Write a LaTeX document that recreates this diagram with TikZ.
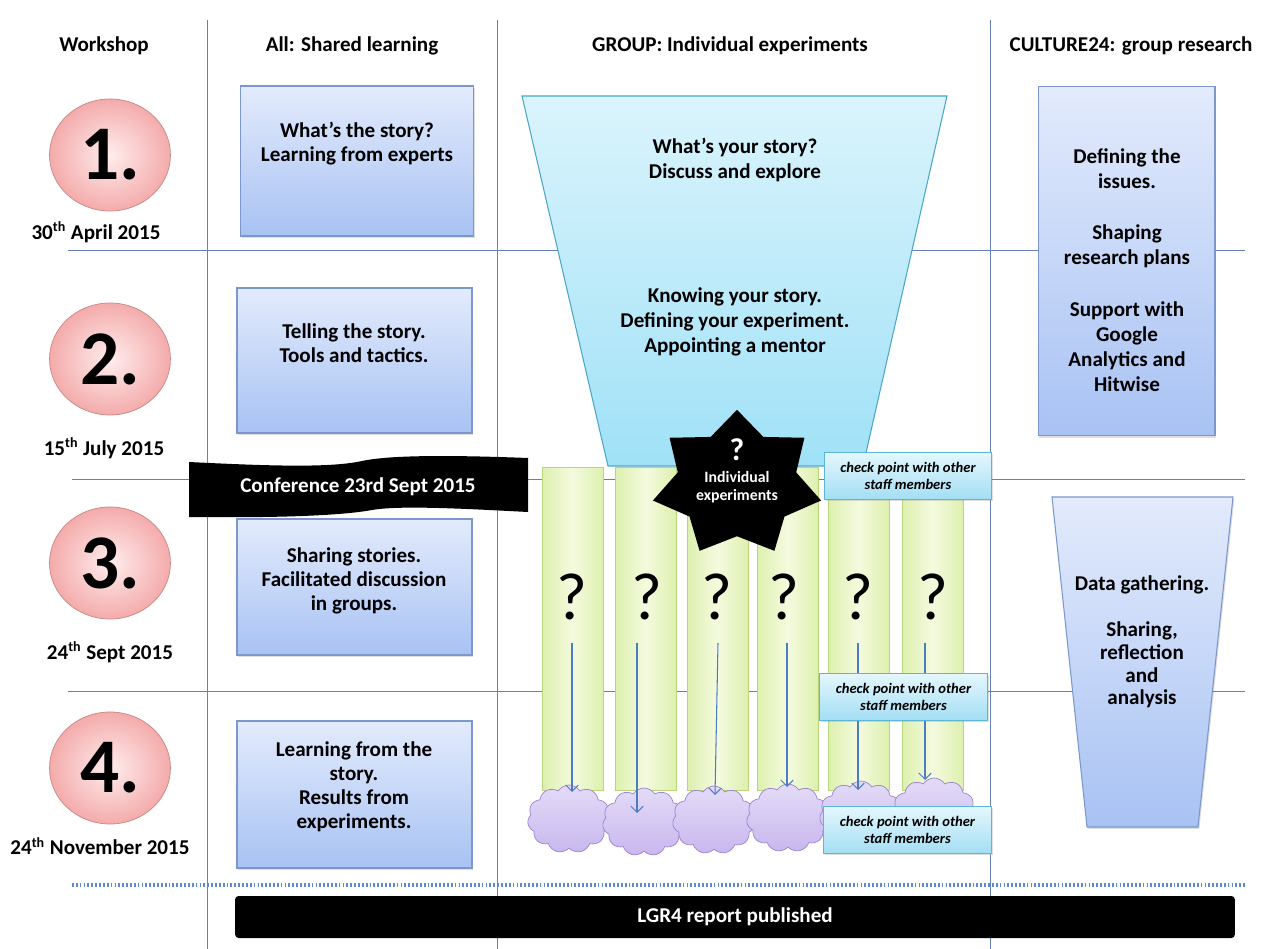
\documentclass[tikz,border=0pt]{standalone}
\usepackage{fontspec}
\setmainfont{Carlito}
\usepackage{tikz}
\usetikzlibrary{arrows.meta,shapes.geometric,shapes.symbols,shadows}
\definecolor{GridBlue}{HTML}{6482B4}
\definecolor{DotBlue}{HTML}{5B8AD2}
\definecolor{DayEdge}{HTML}{C98585}
\definecolor{DayIn}{HTML}{FFEDED}
\definecolor{DayOut}{HTML}{F4ABAB}
\definecolor{BoxEdge}{HTML}{7B97CC}
\definecolor{BoxTop}{HTML}{E3EBFC}
\definecolor{BoxBottom}{HTML}{A8C2F3}
\definecolor{FunnelEdge}{HTML}{4BA6C9}
\definecolor{FunnelTop}{HTML}{DAF4FC}
\definecolor{FunnelBottom}{HTML}{A0E1F7}
\definecolor{ColEdge}{HTML}{B9D47A}
\definecolor{ColSide}{HTML}{DDF0AE}
\definecolor{ColMid}{HTML}{F4FADF}
\definecolor{CloudEdge}{HTML}{9A85CF}
\definecolor{CloudTop}{HTML}{E4DBF7}
\definecolor{CloudBottom}{HTML}{C8B7EE}
\definecolor{CheckEdge}{HTML}{5DB6D6}
\definecolor{CheckTop}{HTML}{E4F7FD}
\definecolor{CheckBottom}{HTML}{A3DEF4}
\definecolor{FlowBlue}{HTML}{4D7CC4}

\tikzset{
  grid/.style={GridBlue,line width=0.55pt},
  headtext/.style={font=\bfseries\fontsize{12}{14}\selectfont},
  datetext/.style={font=\bfseries\fontsize{12}{14}\selectfont},
  daynum/.style={ellipse,draw=DayEdge,inner color=DayIn,outer color=DayOut,
    minimum width=2.42cm,minimum height=2.24cm,inner sep=0pt,
    font=\bfseries\fontsize{44}{44}\selectfont},
  softshadow/.style={drop shadow={opacity=0.25,shadow xshift=0.8pt,shadow yshift=-1pt}},
  sharebox/.style={draw=BoxEdge,top color=BoxTop,bottom color=BoxBottom,
    line width=0.6pt,inner sep=0pt,softshadow},
  boxtext/.style={align=center,font=\bfseries\fontsize{12}{13.6}\selectfont},
  funnel/.style={draw=FunnelEdge,top color=FunnelTop,bottom color=FunnelBottom,line width=0.6pt},
  expcol/.style={draw=ColEdge,left color=ColSide,right color=ColSide,middle color=ColMid,
    minimum width=1.22cm,minimum height=6.46cm,inner sep=0pt},
  qmark/.style={font=\fontsize{38}{38}\selectfont},
  outcome/.style={cloud,cloud puffs=11,cloud puff arc=115,aspect=1.25,draw=CloudEdge,
    top color=CloudTop,bottom color=CloudBottom,minimum width=1.66cm,minimum height=1.36cm,
    inner sep=0pt},
  flow/.style={FlowBlue,line width=0.6pt,-{Straight Barb[length=3.5pt,width=7pt]}},
  checkbox/.style={draw=CheckEdge,top color=CheckTop,bottom color=CheckBottom,
    minimum width=3.35cm,minimum height=0.94cm,inner sep=0pt,align=center,
    font=\bfseries\itshape\fontsize{8.3}{10}\selectfont,softshadow},
  blackbar/.style={fill=black,text=white,font=\bfseries\fontsize{12}{14}\selectfont}
}

\begin{document}
\begin{tikzpicture}[x=0.02cm,y=-0.02cm]
\useasboundingbox (0,0) rectangle (1268,949);

% grid of the timetable
\draw[grid] (207,20) -- (207,949);
\draw[grid] (497,20) -- (497,949);
\draw[grid] (990,20) -- (990,949);
\draw[grid] (68,250) -- (1245,250);
\draw[grid] (72,479) -- (1245,479);
\draw[grid] (68,691) -- (1245,691);
\draw[DotBlue,line width=2pt,dash pattern=on 1pt off 1.2pt] (72,885) -- (1245,885);

% column heads
\node[headtext] (hws) at (104,46) {Workshop};
\node[headtext] (hall) at (352,46) {All: Shared learning};
\node[headtext] (hgrp) at (730,46) {GROUP: Individual experiments};
\node[headtext] (hc24) at (1131,46) {CULTURE24: group research};

% workshops
\node[daynum] (d1) at (110,155) {1.};
\node[daynum] (d2) at (110,359) {2.};
\node[daynum] (d3) at (110,563) {3.};
\node[daynum] (d4) at (110,768) {4.};
\node[datetext] (t1) at (96,232) {30\textsuperscript{th} April 2015};
\node[datetext] (t2) at (104,448) {15\textsuperscript{th} July 2015};
\node[datetext] (t3) at (110,652) {24\textsuperscript{th} Sept 2015};
\node[datetext] (t4) at (100,846) {24\textsuperscript{th} November 2015};

% shared learning
\node[sharebox,minimum width=4.66cm,minimum height=3cm] (s1) at (357,161) {};
\node[sharebox,minimum width=4.7cm,minimum height=2.9cm] (s2) at (354.5,360.5) {};
\node[sharebox,minimum width=4.7cm,minimum height=2.72cm] (s3) at (354.5,587) {};
\node[sharebox,minimum width=4.7cm,minimum height=2.94cm] (s4) at (354.5,794.5) {};
\node[boxtext] (s1t) at (357,144) {What’s the story?\\Learning from experts};
\node[boxtext] (s2t) at (354,343) {Telling the story.\\Tools and tactics.};
\node[boxtext] (s3t) at (354,581) {Sharing stories.\\Facilitated discussion\\in groups.};
\node[boxtext] (s4t) at (354,787) {Learning from the\\story.\\Results from\\experiments.};

% conference banner
\fill[black] (189,462) .. controls (270,466) and (330,468) .. (362,461)
  .. controls (390,455) and (450,455) .. (528,458) -- (528,512)
  .. controls (470,509) and (400,505) .. (372,510)
  .. controls (340,516) and (270,518) .. (189,517) -- cycle;
\node[blackbar,fill=none] (conf) at (358,487) {Conference 23rd Sept 2015};

% group funnel
\draw[funnel] (522,96) -- (947,96) -- (863,466) -- (608,466) -- cycle;
\node[boxtext,font=\bfseries\fontsize{12}{14.2}\selectfont] (f1) at (735,160) {What’s your story?\\Discuss and explore};
\node[boxtext,font=\bfseries\fontsize{12}{14.2}\selectfont] (f2) at (735,322) {Knowing your story.\\Defining your experiment.\\Appointing a mentor};

% individual experiments
\node[expcol] (c1) at (572.5,628.5) {};
\node[expcol] (c2) at (645.5,628.5) {};
\node[expcol] (c3) at (717.5,628.5) {};
\node[expcol] (c4) at (787.5,628.5) {};
\node[expcol] (c5) at (858.5,628.5) {};
\node[expcol] (c6) at (932.5,628.5) {};

\node[star,star points=7,star point ratio=1.42,minimum size=3.45cm,fill=black,inner sep=0pt,
  yscale=0.86,transform shape] (st) at (737,484) {};
\node[text=white,font=\bfseries\fontsize{18}{18}\selectfont] (stq) at (737,450) {?};
\node[text=white,align=center,font=\bfseries\fontsize{9}{10.5}\selectfont] (stt) at (737,487) {Individual\\experiments};

\node[qmark] (q1) at (572,597) {?};
\node[qmark] (q2) at (647,597) {?};
\node[qmark] (q3) at (717,597) {?};
\node[qmark] (q4) at (784,597) {?};
\node[qmark] (q5) at (858,597) {?};
\node[qmark] (q6) at (933,597) {?};

\node[outcome] (cl1) at (569,819) {};
\node[outcome] (cl2) at (644,822) {};
\node[outcome] (cl3) at (714,820) {};
\node[outcome] (cl4) at (788,818) {};
\node[outcome] (cl5) at (861,815) {};
\node[outcome] (cl6) at (934,812) {};

\coordinate (e1) at (572,792);
\coordinate (e2) at (637,813);
\coordinate (e3) at (715,795);
\coordinate (e4) at (787,787);
\coordinate (e5) at (858,790);
\coordinate (e6) at (925,780);
\draw[flow] (q1) ++(0,46) -- (e1);
\draw[flow] (q2) ++(-10,46) -- (e2);
\draw[flow] (q3) ++(1,46) -- (e3);
\draw[flow] (q4) ++(3,46) -- (e4);
\draw[flow] (q5) ++(0,46) -- (e5);
\draw[flow] (q6) ++(-8,46) -- (e6);

\node[checkbox] (cp1) at (908,476) {check point with other\\staff members};
\node[checkbox] (cp2) at (903.5,697) {check point with other\\staff members};
\node[checkbox] (cp3) at (907.5,830) {check point with other\\staff members};

% culture24 research
\node[sharebox,minimum width=3.54cm,minimum height=7cm] (r1) at (1126.5,261) {};
\node[boxtext,font=\bfseries\fontsize{12}{14.2}\selectfont] (r1t) at (1127,270)
  {Defining the\\issues.\\[15pt]Shaping\\research plans\\[15pt]Support with\\Google\\Analytics and\\Hitwise};
\draw[sharebox] (1052,497) -- (1233,497) -- (1198,827) -- (1087,827) -- cycle;
\node[boxtext,font=\bfseries\fontsize{12}{13}\selectfont] (r2t) at (1142,642)
  {Data gathering.\\[13pt]Sharing,\\reflection\\and\\analysis};

% report
\node[blackbar,rounded corners=2pt,minimum width=20cm,minimum height=0.84cm] (rep) at (735,917) {LGR4 report published};
\end{tikzpicture}
\end{document}
